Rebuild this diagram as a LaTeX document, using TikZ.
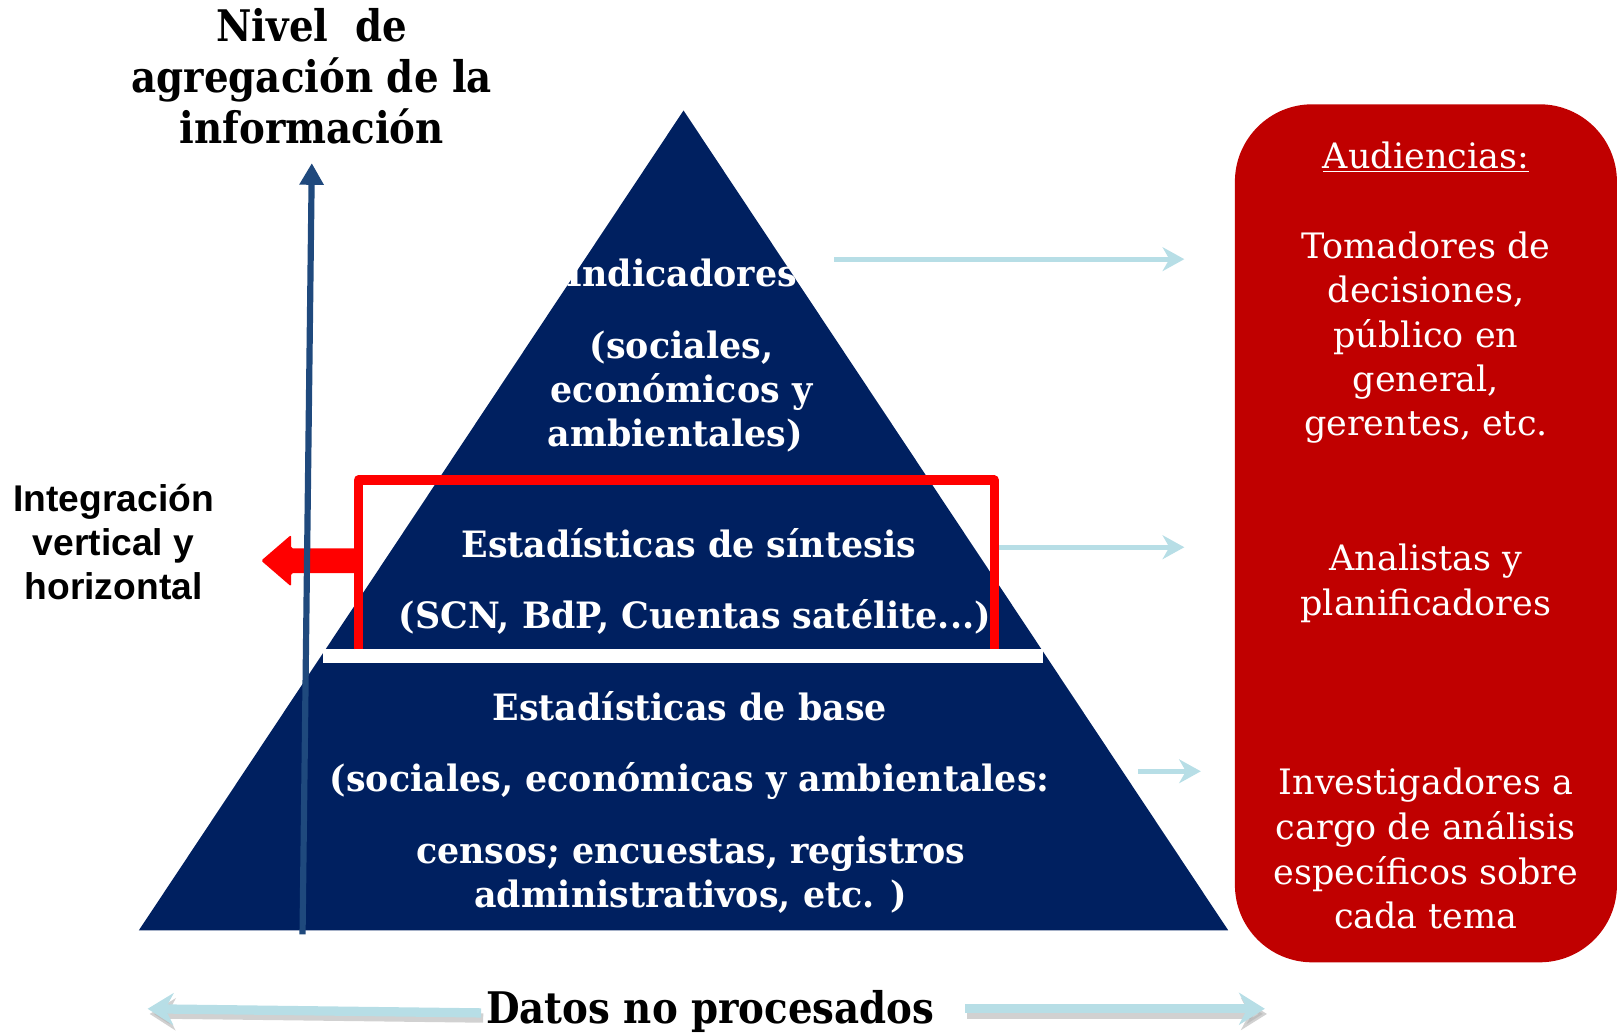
\documentclass[tikz,border=0pt]{standalone}
\usepackage{fontspec}
\setmainfont{DejaVu Serif}
\newfontfamily\arialf{Liberation Sans}
\usetikzlibrary{arrows.meta}
\definecolor{navy}{RGB}{0,32,96}
\definecolor{redbox}{RGB}{192,0,0}
\definecolor{lblue}{RGB}{183,222,230}
\definecolor{ablue}{RGB}{31,73,125}
\definecolor{pred}{RGB}{255,0,0}
\newcommand{\cxp}[1]{\scalebox{0.96}[1]{#1}}
\newcommand{\cxt}[1]{\scalebox{0.89}[1]{#1}}
\tikzset{
  pyr/.style={text=white, font=\fontsize{20}{24}\selectfont\bfseries, anchor=base, inner sep=0pt},
  ttl/.style={text=black, font=\fontsize{24}{28}\selectfont\bfseries, anchor=base, inner sep=0pt},
  aud/.style={text=white, font=\fontsize{19.3}{24}\selectfont, anchor=base, inner sep=0pt},
  lft/.style={text=black, font=\arialf\bfseries\fontsize{20.5}{24}\selectfont, anchor=base, inner sep=0pt},
  thinarrow/.style={draw=lblue, line width=0.1cm, -{Stealth[length=0.42cm,width=0.46cm,inset=0.13cm]}},
  thickarrow/.style={draw=lblue, line width=0.18cm, -{Stealth[length=0.5cm,width=0.62cm,inset=0.16cm]}},
  shadowarrow/.style={draw=black!30, opacity=0.6, line width=0.18cm, -{Stealth[length=0.5cm,width=0.62cm,inset=0.16cm]}}
}
\begin{document}
\begin{tikzpicture}[x=0.02cm,y=-0.02cm]
\useasboundingbox (0,0) rectangle (1568,1003);
% pyramid
\fill[navy] (662,107) -- (1189.5,901) -- (134.5,901) -- cycle;
\fill[white] (313,629) rectangle (1010,642);
% red box
\fill[redbox, rounded corners=1.5cm] (1196,101) rectangle (1566,932);
% red frame
\draw[pred, line width=0.18cm, line join=round] (347,629) -- (347,465) -- (963,465) -- (963,629);
% red left arrow
\fill[pred, rounded corners=0.03cm] (347,531) -- (282,531) -- (282,518) -- (253,543) -- (282,568) -- (282,555) -- (347,555) -- cycle;
% title
\node[ttl] (t1) at (302,40) {\cxt{Nivel\hspace{0.7em}de}};
\node[ttl] (t2) at (302,90) {\cxt{agregación de la}};
\node[ttl] (t3) at (302,139) {\cxt{información}};
% pyramid texts
\node[pyr] (p1) at (660,277) {\cxp{Indicadores}};
\node[pyr] (p2) at (660,347) {\cxp{(sociales,}};
\node[pyr] (p3) at (660,390) {\cxp{económicos y}};
\node[pyr] (p4) at (654,432) {\cxp{ambientales)}};
\node[pyr] (p5) at (667,540) {\cxp{Estadísticas de síntesis}};
\node[pyr] (p6) at (673,609) {\cxp{(SCN, BdP, Cuentas satélite...)}};
\node[pyr] (p7) at (668,698) {\cxp{Estadísticas de base}};
\node[pyr] (p8) at (668,767) {\cxp{(sociales, económicas y ambientales:}};
\node[pyr] (p9) at (669,836) {\cxp{censos; encuestas, registros}};
\node[pyr] (p10) at (669,879) {\cxp{administrativos, etc. )}};
% left text
\node[lft] (l1) at (110,495) {Integración};
\node[lft] (l2) at (110,538) {vertical y};
\node[lft] (l3) at (110,581) {horizontal};
% audiences
\node[aud] (a0) at (1381,163) {\underline{Audiencias:}};
\node[aud] (a1) at (1381,250) {Tomadores de};
\node[aud] (a2) at (1381,293) {decisiones,};
\node[aud] (a3) at (1381,337) {público en};
\node[aud] (a4) at (1381,379) {general,};
\node[aud] (a5) at (1381,422) {gerentes, etc.};
\node[aud] (b1) at (1381,553) {Analistas y};
\node[aud] (b2) at (1381,596) {planificadores};
\node[aud] (c1) at (1381,769) {Investigadores a};
\node[aud] (c2) at (1381,813) {cargo de análisis};
\node[aud] (c3) at (1381,857) {específicos sobre};
\node[aud] (c4) at (1381,899) {cada tema};
% light blue arrows
\coordinate (s1) at (808,251); \coordinate (e1) at (1147,251);
\coordinate (s2) at (968,530); \coordinate (e2) at (1147,530);
\coordinate (s3) at (1102,747); \coordinate (e3) at (1163,747);
\draw[thinarrow] (s1) -- (e1);
\draw[thinarrow] (s2) -- (e2);
\draw[thinarrow] (s3) -- (e3);
% bottom
\node[ttl] (d) at (688,991) {\cxt{Datos no procesados}};
\coordinate (dl0) at (466,981); \coordinate (dl1) at (143,977);
\coordinate (dr0) at (935,977); \coordinate (dr1) at (1225,977);
\draw[shadowarrow] ([shift={(2,5)}]dl0) -- ([shift={(2,5)}]dl1);
\draw[shadowarrow] ([shift={(2,5)}]dr0) -- ([shift={(2,5)}]dr1);
\draw[thickarrow] (dl0) -- (dl1);
\draw[thickarrow] (dr0) -- (dr1);
% blue vertical arrow
\coordinate (v0) at (293,905); \coordinate (v1) at (302,158);
\draw[ablue, line width=0.12cm, -{Triangle[length=0.42cm,width=0.45cm]}] (v0) -- (v1);
\end{tikzpicture}
\end{document}
